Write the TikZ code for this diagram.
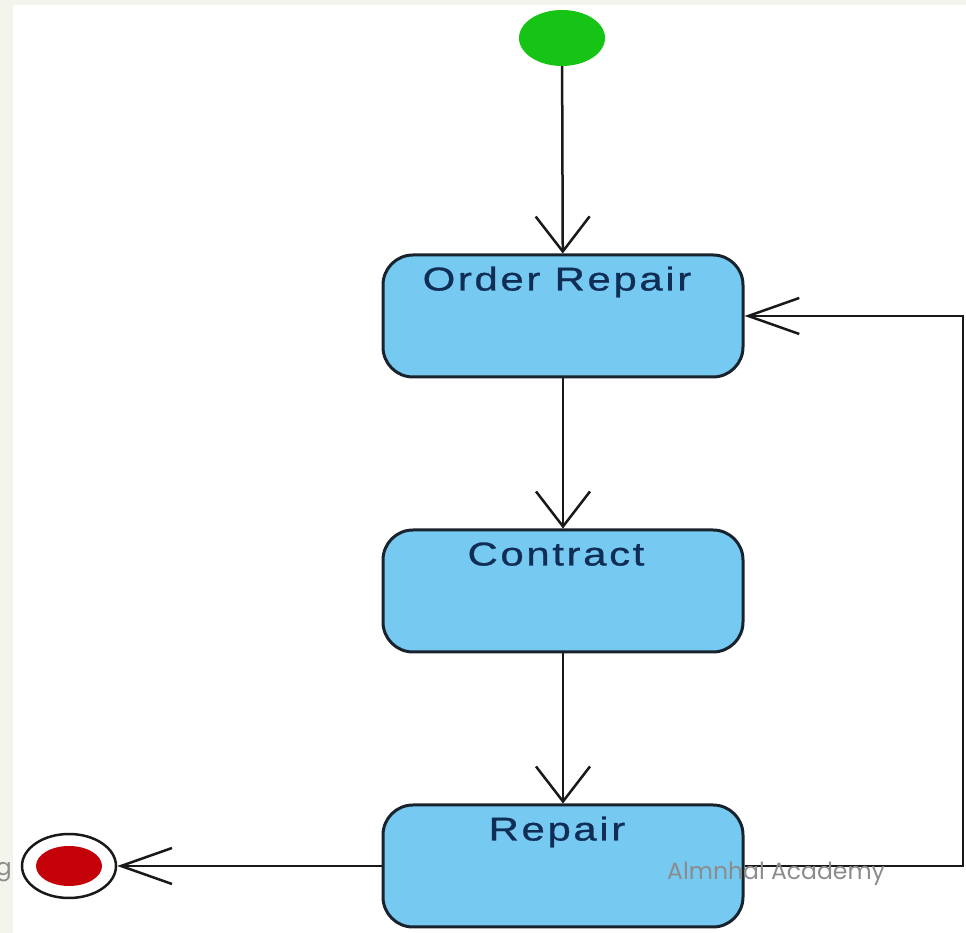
\documentclass[tikz,border=0pt]{standalone}
\usepackage{fontspec}
\usetikzlibrary{arrows.meta,shapes.geometric}
\newfontfamily\statefont[FakeStretch=1.27,LetterSpace=8,FakeBold=0.8]{Liberation Sans}
\newfontfamily\footfont{Poppins}
\definecolor{statefill}{RGB}{118,201,240}
\definecolor{stateline}{RGB}{25,35,45}
\definecolor{statetext}{RGB}{15,45,85}
\definecolor{startgreen}{RGB}{22,196,22}
\definecolor{endred}{RGB}{196,0,8}
\definecolor{pagestrip}{RGB}{243,245,236}
\definecolor{footgray}{RGB}{140,140,140}
\begin{document}
\begin{tikzpicture}[x=1pt,y=1pt,
    state/.style={draw=stateline, line width=3pt, fill=statefill, rounded corners=30pt, minimum width=360pt, minimum height=122pt, inner sep=0pt},
    title/.style={text=statetext, font=\statefont\fontsize{33}{36}\selectfont, anchor=base, inner sep=0pt},
    flow/.style={draw=black!90, line width=2.5pt, -{Straight Barb[length=35pt,width=54pt]}},
    back/.style={draw=black!90, line width=2.5pt, -{Straight Barb[length=51pt,width=36pt]}},
    footer/.style={text=footgray, font=\footfont\fontsize{23.5}{26}\selectfont, inner sep=0pt}]
        \useasboundingbox (0,0) rectangle (966,933);
        % Slide border
        \fill[pagestrip] (0,0) rectangle (13,933);
        \fill[pagestrip] (0,928) rectangle (966,933);

        % Start and end
        \node[ellipse, fill=startgreen, minimum width=86pt, minimum height=56pt, inner sep=0pt] (start) at (562,895) {};
        \node[ellipse, draw=black!90, line width=2.5pt, fill=white, minimum width=94pt, minimum height=64pt, inner sep=0pt] (final) at (69,67) {};
        \node[ellipse, fill=endred, minimum width=66pt, minimum height=40pt, inner sep=0pt] (final_dot) at (final) {};

        % States
        \node[state] (order) at (563,617) {};
        \node[state] (contract) at (563,342) {};
        \node[state] (repair) at (563,67) {};
        \node[title] (order_title) at ([xshift=-6pt,yshift=-37pt]order.north) {Order Repair};
        \node[title] (contract_title) at ([xshift=-7pt,yshift=-37pt]contract.north) {Contract};
        \node[title] (repair_title) at ([xshift=-6pt,yshift=-37pt]repair.north) {Repair};

        % Transitions
        \coordinate (loop_corner) at (963,67);
        \draw[flow] (start) -- (order);
        \draw[flow] (order) -- (contract);
        \draw[flow] (contract) -- (repair);
        \draw[back] (repair.east) -- (loop_corner) |- (order.east);
        \draw[back] (repair.west) -- (final);

        % Footer
        \node[footer, anchor=base west] (academy) at (667,53) {Almnhal Academy};
        \node[footer, anchor=base east] (cut_word) at (12,57) {g};
    \end{tikzpicture}
\end{document}
